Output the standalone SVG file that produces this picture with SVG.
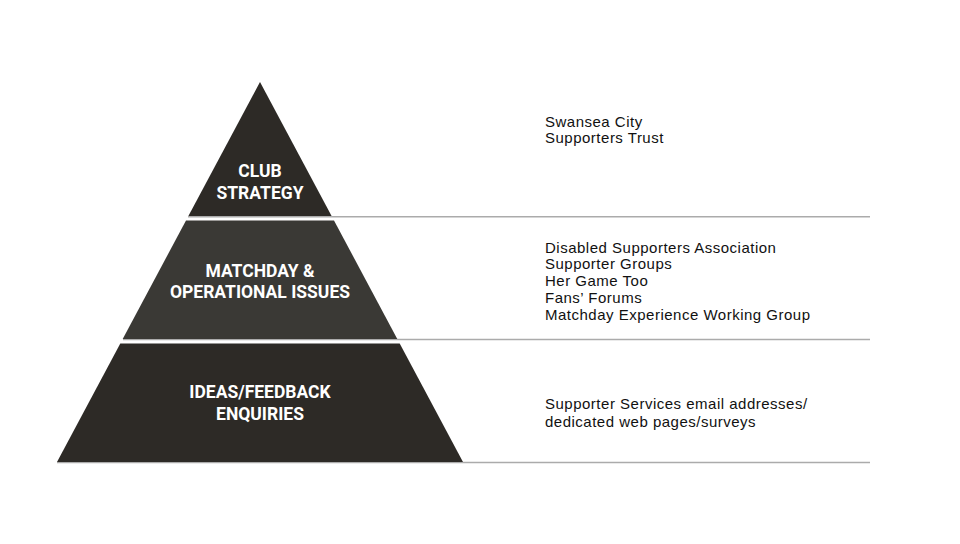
<svg xmlns="http://www.w3.org/2000/svg" width="960" height="544" viewBox="0 0 960 544">
<style>
.tier{stroke:none}
.lbl{font-family:Roboto,"Liberation Sans",sans-serif;font-weight:700;font-size:17.5px;fill:#ffffff;text-anchor:middle}
.txt{font-family:"Liberation Sans",Arial,sans-serif;font-size:15px;letter-spacing:0.5px;fill:#111111}
.rule{stroke:#ababab;stroke-width:1.5;fill:none}
</style>
<rect width="960" height="544" fill="#ffffff"/>
<g id="connectors">
<line class="rule" x1="188" y1="216.8" x2="870" y2="216.8"/>
<line class="rule" x1="123" y1="339.6" x2="870" y2="339.6"/>
<line class="rule" x1="57" y1="462.6" x2="870" y2="462.6"/>
</g>
<g id="tier-top">
<polygon class="tier" fill="#2d2a26" points="260,82 331.6,216 188.4,216"/>
<text class="lbl" x="260" y="177">CLUB</text>
<text class="lbl" x="260" y="199">STRATEGY</text>
</g>
<g id="tier-middle">
<polygon class="tier" fill="#3a3935" points="186,220.5 334,220.5 397.3,339 122.7,339"/>
<text class="lbl" x="260" y="277">MATCHDAY &amp;</text>
<text class="lbl" x="260" y="298">OPERATIONAL ISSUES</text>
</g>
<g id="tier-bottom">
<polygon class="tier" fill="#2d2a26" points="120.3,343.5 399.7,343.5 463,462 57,462"/>
<text class="lbl" x="260" y="398">IDEAS/FEEDBACK</text>
<text class="lbl" x="260" y="420">ENQUIRIES</text>
</g>
<g id="desc-top">
<text class="txt" x="545" y="126.5">Swansea City</text>
<text class="txt" x="545" y="143.3">Supporters Trust</text>
</g>
<g id="desc-middle">
<text class="txt" x="545" y="252.5">Disabled Supporters Association</text>
<text class="txt" x="545" y="269.3">Supporter Groups</text>
<text class="txt" x="545" y="286.1">Her Game Too</text>
<text class="txt" x="545" y="302.9">Fans’ Forums</text>
<text class="txt" x="545" y="319.7">Matchday Experience Working Group</text>
</g>
<g id="desc-bottom">
<text class="txt" x="545" y="409.3">Supporter Services email addresses/</text>
<text class="txt" x="545" y="426.5">dedicated web pages/surveys</text>
</g>
</svg>
